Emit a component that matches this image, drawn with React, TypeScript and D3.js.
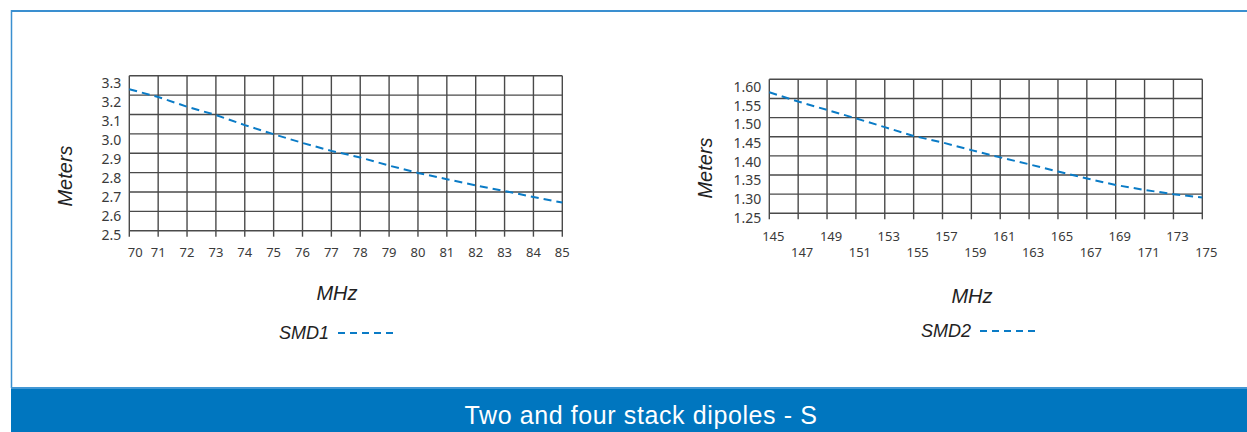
import React from 'react';
import * as d3 from 'd3';

// SMD1 chart
const freq1 = [70, 71, 72, 73, 74, 75, 76, 77, 78, 79, 80, 81, 82, 83, 84, 85];
const meters1 = [3.23, 3.19, 3.14, 3.097, 3.045, 2.998, 2.953, 2.912, 2.878, 2.836, 2.798, 2.766, 2.734, 2.705, 2.674, 2.645];
const yTicks1 = [3.3, 3.2, 3.1, 3.0, 2.9, 2.8, 2.7, 2.6, 2.5];

// SMD2 chart
const freq2 = [145, 147, 149, 151, 153, 155, 157, 159, 161, 163, 165, 167, 169, 171, 173, 175];
const meters2 = [1.566, 1.542, 1.52, 1.498, 1.475, 1.452, 1.435, 1.415, 1.396, 1.378, 1.359, 1.341, 1.324, 1.311, 1.3, 1.291];
const yTicks2 = [1.6, 1.55, 1.5, 1.45, 1.4, 1.35, 1.3, 1.25];

const title = 'Two and four stack dipoles - S';
const blue = '#0a7bc6';
const tickFont = '"Noto Sans", "DejaVu Sans", sans-serif';
const labelFont = '"Liberation Sans", Arial, sans-serif';

type ChartProps = {
  xs: number[];
  ys: number[];
  yTicks: number[];
  yFmt: (v: number) => string;
  left: number;
  right: number;
  top: number;
  bottom: number;
  twoRows: boolean;
  yTitleX: number;
  yTitleY: number;
  xTitleX: number;
  xTitleY: number;
  legend: string;
  legendX: number;
  legendY: number;
};

function Chart(p: ChartProps) {
  const x = d3.scaleLinear().domain([p.xs[0], p.xs[p.xs.length - 1]]).range([p.left, p.right]);
  const y = d3.scaleLinear().domain([d3.min(p.yTicks)!, d3.max(p.yTicks)!]).range([p.bottom, p.top]);
  const line = d3.line<number>().x((d, i) => x(p.xs[i])).y(d => y(d));
  const grid = '#4a4a4a';
  return (
    <g>
      {p.yTicks.map(t => (
        <line key={'h' + t} x1={p.left} x2={p.right} y1={y(t)} y2={y(t)} stroke={grid} strokeWidth={1.4} />
      ))}
      {p.xs.map(v => (
        <line key={'v' + v} x1={x(v)} x2={x(v)} y1={p.top} y2={p.bottom + 6} stroke={grid} strokeWidth={1.4} />
      ))}
      {p.yTicks.map((t, i) => (
        <text key={'yl' + t} x={p.left - 8} y={y(t) + 8 - (i / (p.yTicks.length - 1)) * 3 + 4.5}
          textAnchor="end" fontFamily={tickFont} fontSize={14} fill="#3a3a3a">{p.yFmt(t)}</text>
      ))}
      {p.xs.map((v, i) => {
        const row = p.twoRows ? i % 2 : 0;
        const dx = p.twoRows ? 4 : (i === 0 ? 6 : 0);
        return (
          <text key={'xl' + v} x={x(v) + dx} y={p.bottom + (p.twoRows ? (row ? 33 : 17) : 15) + 11}
            textAnchor="middle" fontFamily={tickFont} fontSize={13} fill="#3a3a3a">{v}</text>
        );
      })}
      <path d={line(p.ys) || ''} fill="none" stroke={blue} strokeWidth={2} strokeDasharray="8,5" />
      <text transform={`translate(${p.yTitleX},${p.yTitleY}) rotate(-90)`} textAnchor="middle"
        fontFamily={labelFont} fontStyle="italic" fontSize={20} fill="#222">Meters</text>
      <text x={p.xTitleX} y={p.xTitleY} textAnchor="middle" fontFamily={labelFont} fontStyle="italic"
        fontSize={20} fill="#222">MHz</text>
      <text x={p.legendX} y={p.legendY} textAnchor="end" fontFamily={labelFont} fontStyle="italic"
        fontSize={18} fill="#222">{p.legend}</text>
      <line x1={p.legendX + 9} x2={p.legendX + 68} y1={p.legendY - 6} y2={p.legendY - 6}
        stroke={blue} strokeWidth={2} strokeDasharray="7,5" />
    </g>
  );
}

export default function App() {
  const W = 1247;
  const H = 432;
  return (
    <svg width={W} height={H} style={{ position: 'absolute', left: 0, top: 0, background: '#fff' }}>
      <line x1={11.5} x2={W} y1={11} y2={11} stroke="#3a8fd0" strokeWidth={2} />
      <line x1={11.5} x2={11.5} y1={10} y2={388} stroke="#3a8fd0" strokeWidth={1.5} />
      <rect x={11} y={387} width={W - 11} height={H - 387} fill="#0076bf" />
      <line x1={11} x2={W} y1={388} y2={388} stroke="#5aa3db" strokeWidth={1.5} />
      <text x={641} y={424} textAnchor="middle" fontFamily={labelFont} fontSize={25} letterSpacing={0.6}
        fill="#fff">{title}</text>

      <Chart xs={freq1} ys={meters1} yTicks={yTicks1} yFmt={d3.format('.1f')}
        left={129.3} right={562.3} top={75.7} bottom={230.7} twoRows={false}
        yTitleX={72} yTitleY={176} xTitleX={337} xTitleY={300} legend="SMD1" legendX={329} legendY={339} />
      <Chart xs={freq2} ys={meters2} yTicks={yTicks2} yFmt={d3.format('.2f')}
        left={769.3} right={1202.3} top={79.3} bottom={213.3} twoRows={true}
        yTitleX={712} yTitleY={168} xTitleX={972} xTitleY={303} legend="SMD2" legendX={971} legendY={337} />
    </svg>
  );
}
